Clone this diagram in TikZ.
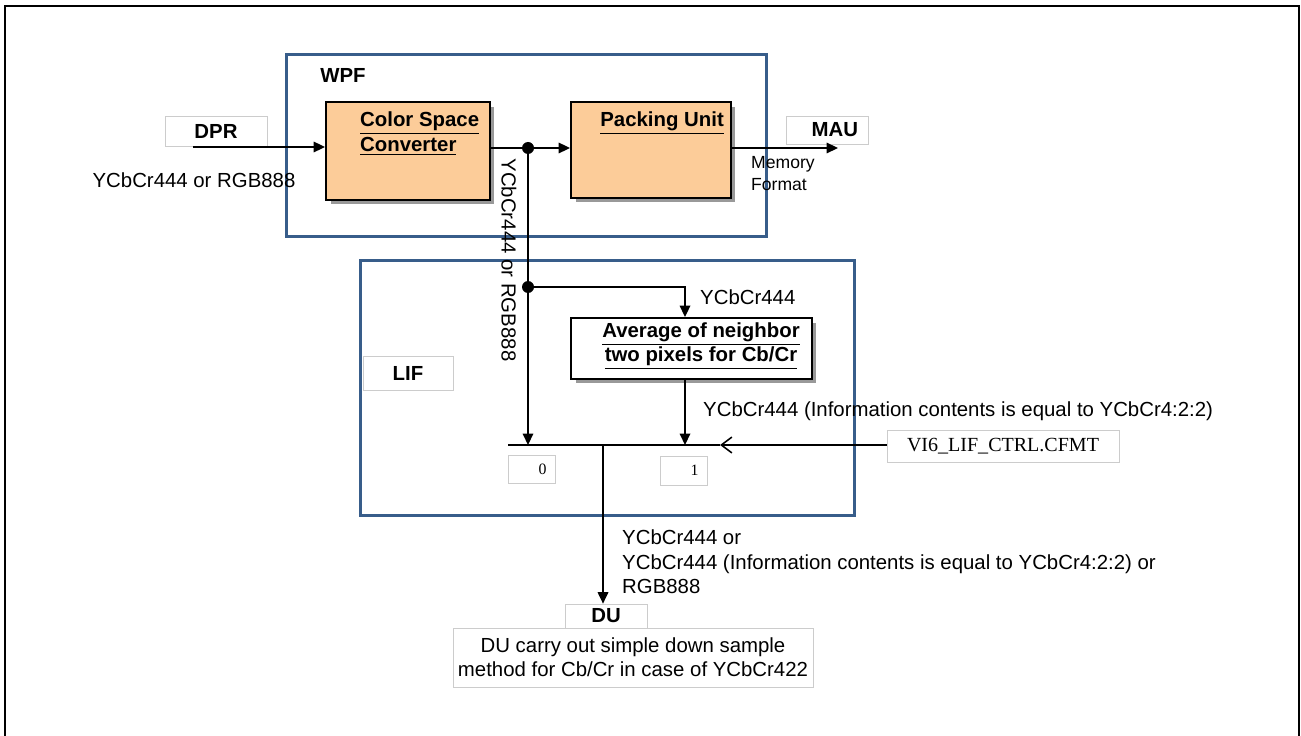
\documentclass[tikz,border=0pt]{standalone}
\usepackage{fontspec}
\setmainfont{Liberation Sans}
\newfontfamily\regfont{Liberation Serif}
\usetikzlibrary{arrows.meta,shadows}
\definecolor{grupoazul}{RGB}{56,93,138}
\definecolor{bloquepiel}{RGB}{252,204,153}
\newcommand\diagfont{\fontsize{11.6}{13.9}\selectfont}
\begin{document}
\begin{tikzpicture}[
    x=0.02cm,
    y=-0.02cm,
    font=\diagfont,
    group/.style={draw=grupoazul,line width=1.7pt,inner sep=0pt},
    block/.style={draw=black,line width=1.1pt,inner sep=0pt,
        drop shadow={shadow xshift=0.09cm,shadow yshift=-0.09cm,
            fill=black!40,opacity=1}},
    tag/.style={draw=black!20,fill=white,line width=0.4pt,inner sep=0pt},
    title/.style={font=\diagfont\bfseries},
    flow/.style={line width=0.9pt,-{Triangle[length=6.5pt,width=6pt]}},
    wire/.style={line width=0.9pt},
    dot/.style={circle,fill=black,inner sep=0pt,minimum size=0.24cm}
]
    \useasboundingbox (0,0) rectangle (1301,736);
    \draw[line width=1.1pt] (5,745) -- (5,6) -- (1299,6) -- (1299,745);

    % WPF
    \node[group,minimum width=9.62cm,minimum height=3.66cm] (wpf) at (526.5,145.5) {};
    \node[title] (wpfname) at (343,75) {WPF};
    \node[block,fill=bloquepiel,minimum width=3.28cm,minimum height=1.96cm] (csc) at (408,151) {};
    \node[title,anchor=north west,align=left] (csctext) at (354,106)
        {\underline{Color Space}\\\underline{Converter}};
    \node[block,fill=bloquepiel,minimum width=3.2cm,minimum height=1.92cm] (pu) at (651,150) {};
    \node[title,anchor=north east] (putext) at (730,106) {\underline{Packing Unit}};
    \node[tag,minimum width=2.04cm,minimum height=0.6cm,title] (dpr) at (216,131) {DPR};
    \node[tag,minimum width=1.64cm,minimum height=0.56cm,title,
        text width=1.24cm,align=right] (mau) at (827,130) {MAU};
    \node (dprfmt) at (194,180) {YCbCr444 or RGB888};
    \node[font=\fontsize{10}{12.4}\selectfont,anchor=north west,align=left]
        (memfmt) at (745,150) {Memory\\Format};
    \coordinate (dprin) at (193,147);
    \coordinate (mauin) at (838,148);
    \node[dot] (j1) at (528,148) {};
    \draw[flow] (dprin) -- (dprin -| csc.west);
    \draw[wire] (csc.east |- j1) -- (j1);
    \draw[flow] (j1) -- (j1 -| pu.west);
    \draw[flow] (pu.east |- mauin) -- (mauin);

    % LIF
    \node[group,minimum width=9.9cm,minimum height=5.12cm] (lif) at (607.5,388) {};
    \node[tag,minimum width=1.8cm,minimum height=0.68cm,title] (lifname) at (408,373) {LIF};
    \node[block,fill=white,minimum width=4.82cm,minimum height=1.22cm] (avg) at (691.5,348.5) {};
    \node[title,align=center] (avgtext) at (701,346)
        {\underline{Average of neighbor}\\\underline{two pixels for Cb/Cr}};
    \node[dot] (j2) at (528,287) {};
    \coordinate (mux0) at (528,445);
    \coordinate (mux1) at (685,445);
    \coordinate (muxL) at (508,445);
    \coordinate (muxR) at (720,445);
    \coordinate (muxout) at (603,445);
    \node[tag,minimum width=4.64cm,minimum height=0.64cm,text width=3.84cm,
        align=right,font=\regfont\fontsize{11.4}{13}\selectfont] (vi6) at (1003,446)
        {VI6\_LIF\_CTRL.CFMT};
    \node[tag,minimum width=0.94cm,minimum height=0.56cm,text width=0.6cm,
        align=right,font=\regfont\small] (sel0) at (531.5,469) {0};
    \node[tag,minimum width=0.94cm,minimum height=0.58cm,text width=0.6cm,
        align=right,font=\regfont\small] (sel1) at (683.5,470.5) {1};
    \node[rotate=-90] (midfmt) at (509,260) {YCbCr444 or RGB888};
    \node[anchor=west] (avgin) at (694,297) {YCbCr444};
    \node[anchor=west] (avgout) at (697,411)
        {YCbCr444 (Information contents is equal to YCbCr4:2:2)};
    \draw[wire] (j1) -- (j2);
    \draw[flow] (j2) -- (mux0);
    \draw[flow] (j2) -| (avg.north -| mux1);
    \draw[flow] (avg.south -| mux1) -- (mux1);
    \draw[wire] (muxL) -- (muxR);
    \draw[wire,-{Straight Barb[length=6pt,width=9pt]}] (vi6.west |- muxR) -- (muxR);

    % DU
    \node[tag,minimum width=7.2cm,minimum height=1.18cm,align=center] (dudesc) at (633,657.5)
        {DU carry out simple down sample\\method for Cb/Cr in case of YCbCr422};
    \node[tag,minimum width=1.64cm,minimum height=0.48cm,title] (du) at (606,616) {DU};
    \node[anchor=north west,align=left] (dufmt) at (616,524)
        {YCbCr444 or\\YCbCr444 (Information contents is equal to YCbCr4:2:2) or\\RGB888};
    \draw[flow] (muxout) -- (du.north -| muxout);
\end{tikzpicture}
\end{document}
